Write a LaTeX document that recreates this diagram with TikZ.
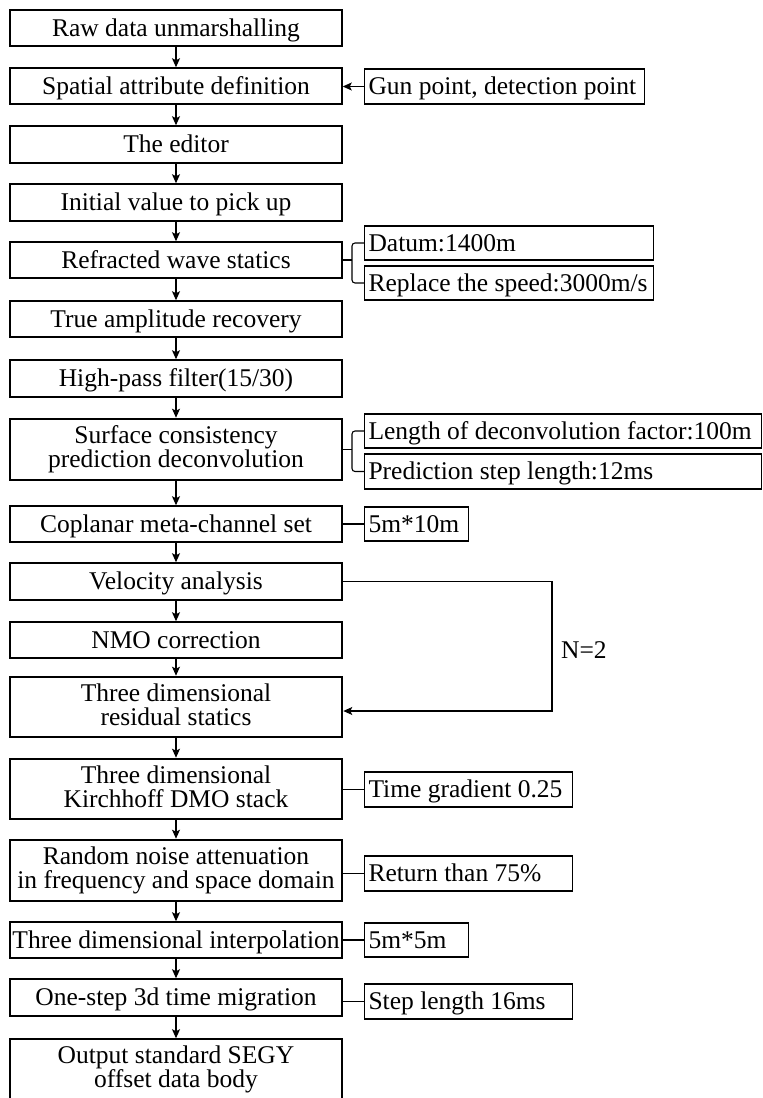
\documentclass[tikz,border=0pt]{standalone}
\usepackage{fontspec}
\setmainfont{Liberation Serif}
\usetikzlibrary{arrows.meta}
\newcommand{\tup}{\rule{0pt}{21.5pt}}
\newcommand{\tdn}{\rule[-5.5pt]{0pt}{0pt}}
\newcommand{\sidetxt}[2]{\makebox[#1pt][l]{\hspace{4pt}\tup\tdn#2}}
\begin{document}
\begin{tikzpicture}[x=1pt,y=-1pt,
  every node/.style={font=\fontsize{25.5}{24}\selectfont},
  mainbox/.style={draw, line width=1.5pt, minimum width=332pt, inner sep=0pt, align=center,
    execute at begin node=\tup, execute at end node=\tdn},
  thickbox/.style={mainbox, line width=2.6pt},
  sidebox/.style={draw, line width=1.1pt, anchor=west, inner xsep=0pt, inner ysep=0pt},
  flow/.style={line width=1.2pt, -{Stealth[length=9pt,width=8pt,inset=2pt]}},
  link/.style={line width=1.1pt}]
\useasboundingbox (0,0) rectangle (763,1098);
\begin{scope}
\clip (0,0) rectangle (763,1098);
% main column
\node[mainbox, minimum height=36pt] (m1) at (176,28) {Raw data unmarshalling};
\node[mainbox, minimum height=36pt] (m2) at (176,86) {Spatial attribute definition};
\node[mainbox, minimum height=37pt] (m3) at (176,144.5) {The editor};
\node[mainbox, minimum height=37pt] (m4) at (176,202.5) {Initial value to pick up};
\node[mainbox, minimum height=36pt] (m5) at (176,260) {Refracted wave statics};
\node[mainbox, minimum height=36pt] (m6) at (176,319) {True amplitude recovery};
\node[mainbox, minimum height=37pt] (m7) at (176,378.5) {High-pass filter(15/30)};
\node[thickbox, minimum height=61pt] (m8) at (176,449.5) {Surface consistency\\prediction deconvolution};
\node[mainbox, minimum height=36pt] (m9) at (176,524) {Coplanar meta-channel set};
\node[mainbox, minimum height=37pt] (m10) at (176,581.5) {Velocity analysis};
\node[mainbox, minimum height=36pt] (m11) at (176,640) {NMO correction};
\node[thickbox, minimum height=60pt] (m12) at (176,707) {Three dimensional\\residual statics};
\node[thickbox, minimum height=60pt] (m13) at (176,789) {Three dimensional\\Kirchhoff DMO stack};
\node[thickbox, minimum height=61pt] (m14) at (176,870.5) {Random noise attenuation\\in frequency and space domain};
\node[mainbox, minimum height=36pt] (m15) at (176,940) {Three dimensional interpolation};
\node[mainbox, minimum height=37pt] (m16) at (176,997.5) {One-step 3d time migration};
\node[mainbox, minimum height=60pt] (m17) at (176,1069) {Output standard SEGY\\offset data body};
% side boxes
\node[sidebox, minimum height=35pt] (gun) at (364,86.5) {\sidetxt{280}{Gun point, detection point}};
\node[sidebox, minimum height=34pt] (datum) at (364,243) {\sidetxt{289}{Datum:1400m}};
\node[sidebox, minimum height=34pt] (speed) at (364,283) {\sidetxt{289}{Replace the speed:3000m/s}};
\node[sidebox, minimum height=34pt] (len) at (364,431) {\sidetxt{397}{Length of deconvolution factor:100m}};
\node[sidebox, minimum height=35pt] (pred) at (364,471.5) {\sidetxt{397}{Prediction step length:12ms}};
\node[sidebox, minimum height=34pt] (cmp) at (364,524) {\sidetxt{104}{5m*10m}};
\node[sidebox, minimum height=35pt] (tg) at (364,789.5) {\sidetxt{208}{Time gradient 0.25}};
\node[sidebox, minimum height=35pt] (ret) at (364,873.5) {\sidetxt{208}{Return than 75\%}};
\node[sidebox, minimum height=34pt] (interp) at (364,940) {\sidetxt{104}{5m*5m}};
\node[sidebox, minimum height=35pt] (stepl) at (364,1001.5) {\sidetxt{208}{Step length 16ms}};
% flow arrows
\foreach \a/\b in {m1/m2,m2/m3,m3/m4,m4/m5,m5/m6,m6/m7,m7/m8,m8/m9,m9/m10,m10/m11,m11/m12,m12/m13,m13/m14,m14/m15,m15/m16,m16/m17}
  \draw[flow] (\a.south) -- (\b.north);
% side links
\draw[flow] (gun.west) -- (gun.west -| m2.east);
\draw[link] (m5.east) -- (352,260);
\draw[link, rounded corners=3pt] (datum.west) -- (352,243) |- (speed.west);
\draw[link] (m8.east) -- (352,449.5);
\draw[link, rounded corners=3pt] (len.west) -- (352,431) |- (pred.west);
\draw[link] (cmp.west) -- (cmp.west -| m9.east);
\draw[link] (tg.west) -- (tg.west -| m13.east);
\draw[link] (ret.west) -- (ret.west -| m14.east);
\draw[link] (interp.west) -- (interp.west -| m15.east);
\draw[link] (stepl.west) -- (stepl.west -| m16.east);
% loop
\coordinate (lt) at (552,581.5);
\coordinate (lb) at (552,711);
\draw[flow] (m10.east) -- (lt) -- (lb) -- (lb -| m12.east);
\node[anchor=west, inner sep=0pt] (n2) at (561,650) {N=2};
\end{scope}
\end{tikzpicture}
\end{document}
